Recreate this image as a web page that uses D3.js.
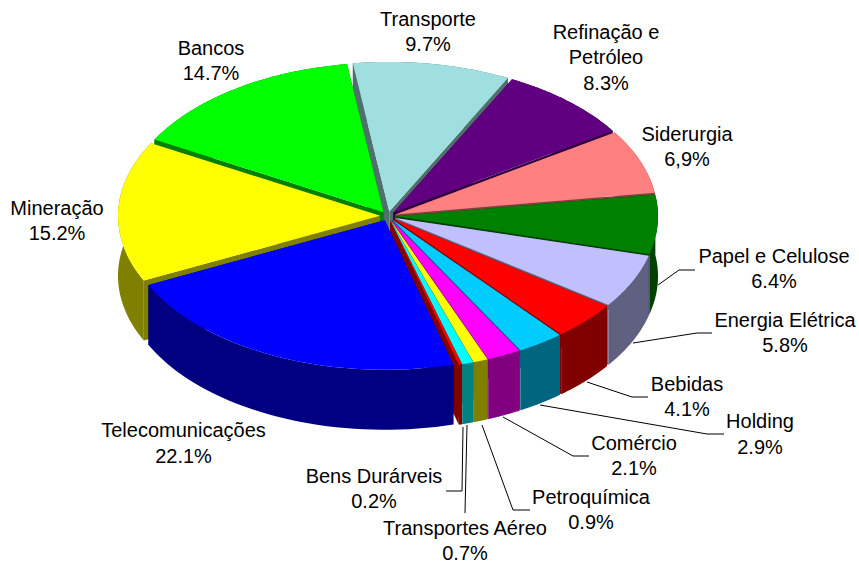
<!DOCTYPE html>
<html><head><meta charset="utf-8">
<script src="https://cdn.jsdelivr.net/npm/d3@7"></script>
<style>html,body{margin:0;background:#fff;overflow:hidden}svg{display:block}text{font-family:"Liberation Sans",Arial,sans-serif;font-size:20px;fill:#000;text-anchor:middle}</style>
</head><body><svg id="c" width="859" height="564"></svg>
<script>
const categories=["Transporte","Refinação e Petróleo","Siderurgia","Papel e Celulose","Energia Elétrica","Bebidas","Holding","Comércio","Petroquímica","Transportes Aéreo","Bens Durárveis","Telecomunicações","Mineração","Bancos"];
const values=[9.7,8.3,6.9,6.4,5.8,4.1,2.9,2.1,0.9,0.7,0.2,22.1,15.2,14.7];
const valueLabels=["9.7%","8.3%","6,9%","6.4%","5.8%","4.1%","2.9%","2.1%","0.9%","0.7%","0.2%","22.1%","15.2%","14.7%"];
const topColors=["#A0DFE0","#600080","#FF8080","#008000","#C0C0FF","#FF0000","#00CCFF","#FF00FF","#FFFF00","#00FFFF","#FF0000","#0000FF","#FFFF00","#00FF00"];
const wallColors=["#507070","#300040","#804040","#004000","#606080","#800000","#006680","#800080","#808000","#008080","#800000","#000080","#808000","#008000"];
const labelLines=[["Transporte"],["Refinação e","Petróleo"],["Siderurgia"],["Papel e Celulose"],["Energia Elétrica"],["Bebidas"],["Holding"],["Comércio"],["Petroquímica"],["Transportes Aéreo"],["Bens Durárveis"],["Telecomunicações"],["Mineração"],["Bancos"]];
const labelAnchors=[[428,25.5],[606,38.5],[687,140.5],[774,262.5],[785,326.5],[687,390.5],[760,428],[634,449.5],[591,503.5],[465,534.5],[374,482.5],[183.5,437],[57,214.5],[211,54.5]];
const leaders=[[[658,285],[679,270],[695,270]],[[633,343],[697,333],[712,333]],[[587,382],[632,397],[648,397]],[[540,405],[707,434],[724,434]],[[503,417],[573,456],[589,456]],[[482,425],[513,510],[530,510]],[[467,425],[465,513]],[[463,427],[462,491],[446,491]]];
const startDeg=-8, R=262, K=0.571, depth=60, explode=8, CX=388, CY=216;
const toRad=Math.PI/180;
const pie=d3.pie().sort(null).value(d=>d).startAngle(startDeg*toRad).endAngle((startDeg+360)*toRad);
const sx=d3.scaleLinear().domain([-R,R]).range([CX-R,CX+R]);
const sy=d3.scaleLinear().domain([-R,R]).range([CY-R*K,CY+R*K]);
const svg=d3.select("#c");
const line=d3.line();
const slices=pie(values).map((d,i)=>{
  const mid=(d.startAngle+d.endAngle)/2;
  const ox=explode*Math.sin(mid), oy=-explode*Math.cos(mid);
  const P=(a,r,z=0)=>[sx(ox+r*Math.sin(a)),sy(oy-r*Math.cos(a))+z];
  const frontMost=d.startAngle<=Math.PI&&d.endAngle>=Math.PI;
  return {i,d,mid,P,order:frontMost?-2:Math.cos(mid)};
});
slices.sort((a,b)=>b.order-a.order);
const n=40;
slices.forEach(s=>{
  const {d,P,i}=s;
  const g=svg.append("g");
  const angs=d3.range(n+1).map(t=>d3.interpolateNumber(d.startAngle,d.endAngle)(t/n));
  const face=a=>[P(a,0),P(a,R),P(a,R,depth),P(a,0,depth)];
  [d.startAngle,d.endAngle].forEach(a=>g.append("path").attr("d",line(face(a))+"Z").attr("fill",wallColors[i]));
  const wall=angs.map(a=>P(a,R)).concat(angs.slice().reverse().map(a=>P(a,R,depth)));
  g.append("path").attr("d",line(wall)+"Z").attr("fill",wallColors[i]);
  const top=[P(0,0)].concat(angs.map(a=>P(a,R)));
  g.append("path").attr("d",line(top)+"Z").attr("fill",topColors[i]);
});
leaders.forEach(l=>svg.append("path").attr("d",line(l)).attr("fill","none").attr("stroke","#000").attr("stroke-width",1));
categories.forEach((c,i)=>{
  const [x,y]=labelAnchors[i];
  const t=svg.append("text").attr("x",x).attr("y",y);
  labelLines[i].concat([valueLabels[i]]).forEach((s,j)=>t.append("tspan").attr("x",x).attr("dy",j?25.8:0).text(s));
});
</script></body></html>
